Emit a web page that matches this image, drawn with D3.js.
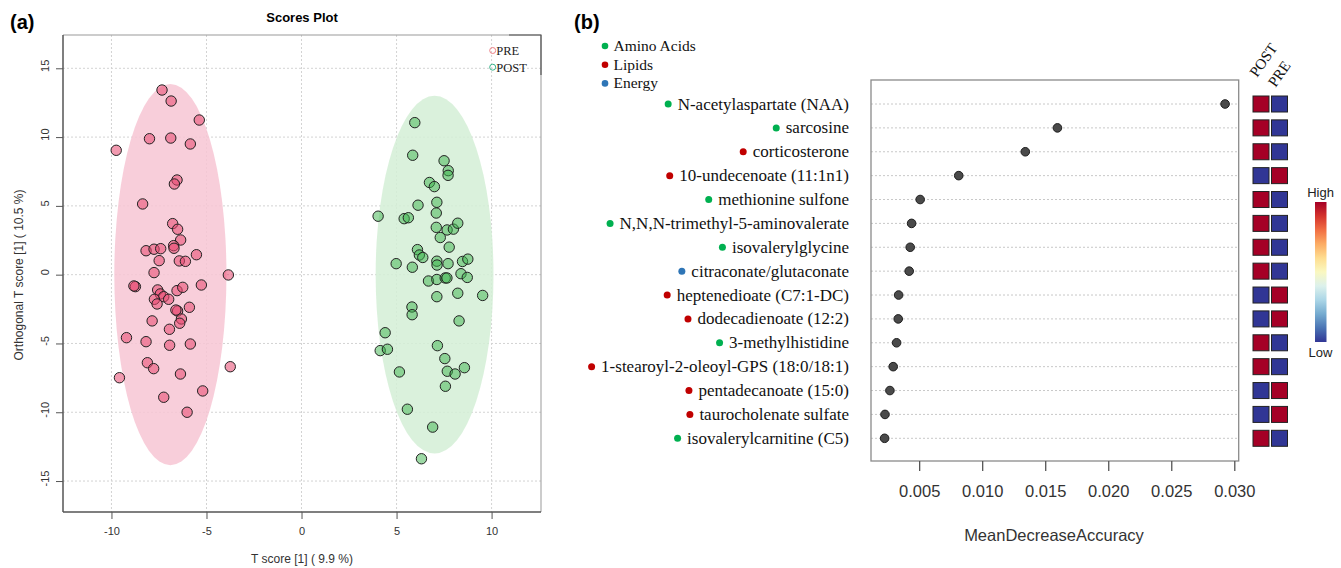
<!DOCTYPE html>
<html>
<head>
<meta charset="utf-8">
<script src="https://cdn.jsdelivr.net/npm/d3@7"></script>
<style>
  body { margin: 0; background: #fff; }
  svg { display: block; }
</style>
</head>
<body>
<div id="chart"></div>
<script>
// ---- (a) scores plot data ----
var groups = ['PRE', 'POST'];
var pre_x = [-7.34, -6.86, -5.38, -9.75, -8.00, -6.88, -5.85, -6.55, -6.69, -8.36,
    -6.78, -6.52, -6.36, -6.73, -6.71, -8.18, -7.76, -7.41, -5.53, -7.49,
    -6.43, -6.11, -7.76, -3.85, -8.74, -8.82, -7.57, -7.43, -7.25, -6.99,
    -7.74, -7.60, -6.55, -6.25, -5.27, -6.52, -6.61, -5.90, -6.32, -6.41,
    -7.86, -6.95, -9.21, -8.18, -6.94, -5.85, -8.11, -7.78, -6.37, -3.75,
    -9.58, -7.25, -5.20, -6.02];
var pre_y = [13.42, 12.62, 11.24, 9.04, 9.88, 9.93, 9.50, 6.88, 6.59, 5.14,
    3.71, 3.30, 2.52, 2.11, 1.92, 1.74, 1.85, 1.89, 1.45, 1.02,
    1.00, 0.97, 0.15, -0.02, -0.87, -0.82, -1.11, -1.40, -1.60, -1.79,
    -1.79, -2.13, -1.16, -0.92, -0.75, -2.64, -2.57, -2.37, -3.22, -3.53,
    -3.36, -3.97, -4.58, -4.87, -5.13, -5.04, -6.40, -6.83, -7.22, -6.69,
    -7.49, -8.91, -8.45, -10.00];
var post_x = [5.96, 5.85, 7.50, 7.72, 7.71, 6.73, 6.99, 7.12, 6.13, 4.03,
    5.40, 5.62, 7.09, 7.09, 7.66, 7.99, 8.22, 7.30, 7.77, 6.10,
    6.20, 6.38, 4.98, 5.83, 7.12, 7.13, 7.71, 8.47, 8.75, 8.39,
    8.72, 6.68, 7.12, 7.56, 7.65, 7.12, 8.22, 9.53, 5.81, 5.82,
    8.29, 4.40, 4.14, 4.52, 7.15, 7.54, 8.57, 7.67, 8.08, 5.15,
    7.57, 5.57, 6.90, 6.31];
var post_y = [11.05, 8.68, 8.28, 7.56, 7.22, 6.70, 6.40, 5.26, 5.05, 4.25,
    4.07, 4.14, 4.48, 3.44, 3.25, 3.31, 3.74, 2.70, 2.00, 1.82,
    1.43, 1.25, 0.80, 0.54, 0.98, 0.70, 0.80, 0.96, 1.13, 0.07,
    -0.20, -0.46, -0.35, -0.24, -0.24, -1.60, -1.35, -1.51, -2.35, -2.91,
    -3.36, -4.22, -5.52, -5.42, -5.16, -6.10, -6.76, -7.02, -7.22, -7.07,
    -8.11, -9.78, -11.08, -13.38];
// confidence ellipses (centre and semi-axes, score units)
var ellipse_cx = [-6.9, 7.0];
var ellipse_cy = [0, 0];
var ellipse_rx = [2.95, 3.1];
var ellipse_ry = [13.85, 13.0];
var t_ticks = [-10, -5, 0, 5, 10];
var o_ticks = [-15, -10, -5, 0, 5, 10, 15];

// ---- (b) random forest importance data ----
var metabolites = ['N-acetylaspartate (NAA)', 'sarcosine', 'corticosterone',
    '10-undecenoate (11:1n1)', 'methionine sulfone', 'N,N,N-trimethyl-5-aminovalerate',
    'isovalerylglycine', 'citraconate/glutaconate', 'heptenedioate (C7:1-DC)',
    'dodecadienoate (12:2)', '3-methylhistidine', '1-stearoyl-2-oleoyl-GPS (18:0/18:1)',
    'pentadecanoate (15:0)', 'taurocholenate sulfate', 'isovalerylcarnitine (C5)'];
var classes = ['Amino Acids', 'Amino Acids', 'Lipids', 'Lipids', 'Amino Acids', 'Amino Acids',
    'Amino Acids', 'Energy', 'Lipids', 'Lipids', 'Amino Acids', 'Lipids',
    'Lipids', 'Lipids', 'Amino Acids'];
var mda = [0.02927, 0.01597, 0.01342, 0.00814, 0.00508, 0.00440, 0.00429, 0.00421,
    0.00337, 0.00334, 0.00321, 0.00294, 0.00268, 0.00229, 0.00226];
var heat_cols = ['POST', 'PRE'];
var post_level = [1, 1, 1, 0, 1, 1, 1, 1, 0, 0, 1, 1, 0, 0, 1];
var pre_level = [0, 0, 0, 1, 0, 0, 0, 0, 1, 1, 0, 0, 1, 1, 0];
var class_names = ['Amino Acids', 'Lipids', 'Energy'];
var mda_ticks = [0.005, 0.010, 0.015, 0.020, 0.025, 0.030];

var width = 1341;
var height = 568;

var svg = d3.select('#chart')
    .append('svg')
    .attr('width', width)
    .attr('height', height);

var sans = 'Liberation Sans, Arial, sans-serif';
var serif = 'Liberation Serif, Times New Roman, serif';

// ================= (a) =================
var x_scale = d3.scaleLinear().domain([-12.55, 12.6]).range([63, 541]);
var y_scale = d3.scaleLinear().domain([-17.25, 17.42]).range([512, 35]);

svg.append('text').text('(a)')
    .attr('x', 10).attr('y', 29)
    .attr('font-family', sans).attr('font-weight', 'bold').attr('font-size', 20);

svg.append('text').text('Scores Plot')
    .attr('x', 302).attr('y', 22)
    .attr('text-anchor', 'middle')
    .attr('font-family', sans).attr('font-weight', 'bold').attr('font-size', 13);

// grid
var grid_a = svg.append('g');
grid_a.selectAll('.gx').data(t_ticks).enter().append('line')
    .attr('x1', function(d) { return x_scale(d); })
    .attr('x2', function(d) { return x_scale(d); })
    .attr('y1', 35).attr('y2', 512)
    .attr('stroke', '#d3d3d3').attr('stroke-dasharray', '2,2');
grid_a.selectAll('.gy').data(o_ticks).enter().append('line')
    .attr('y1', function(d) { return y_scale(d); })
    .attr('y2', function(d) { return y_scale(d); })
    .attr('x1', 63).attr('x2', 541)
    .attr('stroke', '#d3d3d3').attr('stroke-dasharray', '2,2');

// ellipses
var ellipse_fill = ['#f7c6d3', '#d4efd6'];
svg.selectAll('ellipse.conf')
    .data(groups)
    .enter()
    .append('ellipse')
    .attr('class', 'conf')
    .attr('cx', function(d, i) { return x_scale(ellipse_cx[i]); })
    .attr('cy', function(d, i) { return y_scale(ellipse_cy[i]); })
    .attr('rx', function(d, i) { return x_scale(ellipse_cx[i] + ellipse_rx[i]) - x_scale(ellipse_cx[i]); })
    .attr('ry', function(d, i) { return y_scale(ellipse_cy[i]) - y_scale(ellipse_cy[i] + ellipse_ry[i]); })
    .attr('fill', function(d, i) { return ellipse_fill[i]; })
    .attr('fill-opacity', 0.85);

// points
var pre_pts = pre_x.map(function(d, i) { return [d, pre_y[i]]; });
var post_pts = post_x.map(function(d, i) { return [d, post_y[i]]; });

svg.append('g').selectAll('circle')
    .data(pre_pts)
    .enter()
    .append('circle')
    .attr('cx', function(d) { return x_scale(d[0]); })
    .attr('cy', function(d) { return y_scale(d[1]); })
    .attr('r', 5.2)
    .attr('fill', '#e8476f')
    .attr('fill-opacity', 0.55)
    .attr('stroke', '#222')
    .attr('stroke-width', 1);

svg.append('g').selectAll('circle')
    .data(post_pts)
    .enter()
    .append('circle')
    .attr('cx', function(d) { return x_scale(d[0]); })
    .attr('cy', function(d) { return y_scale(d[1]); })
    .attr('r', 5.2)
    .attr('fill', '#3cb44b')
    .attr('fill-opacity', 0.5)
    .attr('stroke', '#222')
    .attr('stroke-width', 1);

// box + axes
svg.append('path')
    .attr('d', 'M63,35H541V512')
    .attr('fill', 'none').attr('stroke', '#999').attr('stroke-width', 1);
svg.append('path')
    .attr('d', 'M509,35H541V75')
    .attr('fill', 'none').attr('stroke', '#555').attr('stroke-width', 1.2);

var x_axis = d3.axisBottom(x_scale).tickValues(t_ticks).tickSize(7).tickPadding(8)
    .tickFormat(function(d) { return String(d); });
var gx = svg.append('g')
    .attr('transform', 'translate(0,512)')
    .call(x_axis);
gx.select('.domain').attr('d', 'M63,0H541').attr('stroke', '#555').attr('stroke-width', 1.5);
gx.selectAll('.tick line').attr('stroke', '#555');
gx.selectAll('.tick text').attr('font-family', sans).attr('font-size', 11).attr('fill', '#333');

var y_axis = d3.axisLeft(y_scale).tickValues(o_ticks).tickSize(7).tickPadding(8)
    .tickFormat(function(d) { return String(d); });
var gy = svg.append('g')
    .attr('transform', 'translate(63,0)')
    .call(y_axis);
gy.select('.domain').attr('d', 'M0,35V512').attr('stroke', '#555').attr('stroke-width', 1.5);
gy.selectAll('.tick line').attr('stroke', '#555');
gy.selectAll('.tick text')
    .attr('font-family', sans).attr('font-size', 11).attr('fill', '#333')
    .attr('text-anchor', 'middle')
    .attr('transform', 'translate(-18,-3) rotate(-90)')
    .attr('x', 0).attr('dy', '0.32em');

svg.append('text').text('T score [1] ( 9.9 %)')
    .attr('x', 302).attr('y', 563)
    .attr('text-anchor', 'middle')
    .attr('font-family', sans).attr('font-size', 12).attr('fill', '#333');

svg.append('text').text('Orthogonal T score [1] ( 10.5 %)')
    .attr('transform', 'translate(23,275) rotate(-90)')
    .attr('text-anchor', 'middle')
    .attr('font-family', sans).attr('font-size', 12).attr('fill', '#333');

// legend
var legend_a_color = ['#ee7f86', '#38b38a'];
var leg_a = svg.append('g').selectAll('g')
    .data(groups)
    .enter()
    .append('g')
    .attr('transform', function(d, i) { return 'translate(492.7,' + (50.5 + i * 16.7) + ')'; });
leg_a.append('circle')
    .attr('r', 3)
    .attr('fill', 'none')
    .attr('stroke', function(d, i) { return legend_a_color[i]; });
leg_a.append('text')
    .text(function(d) { return d; })
    .attr('x', 3.5).attr('y', 4.3)
    .attr('font-family', serif).attr('font-size', 12.5).attr('fill', '#222');

// ================= (b) =================
var class_color = d3.scaleOrdinal().domain(class_names).range(['#00b050', '#c00000', '#2e75b6']);

svg.append('text').text('(b)')
    .attr('x', 574).attr('y', 29)
    .attr('font-family', sans).attr('font-weight', 'bold').attr('font-size', 20);

// class legend
var leg_b = svg.append('g').selectAll('g')
    .data(class_names)
    .enter()
    .append('g')
    .attr('transform', function(d, i) { return 'translate(605,' + (46 + i * 18.7) + ')'; });
leg_b.append('circle').attr('r', 3.3).attr('fill', function(d) { return class_color(d); });
leg_b.append('text')
    .text(function(d) { return d; })
    .attr('x', 8.5).attr('y', 5)
    .attr('font-family', serif).attr('font-size', 15.5).attr('fill', '#111');

var mx = d3.extent(mda);
var pad = (mx[1] - mx[0]) * 0.04;
var m_scale = d3.scaleLinear().domain([mx[0] - pad, mx[1] + pad]).range([871, 1238.7]);
var r_scale = d3.scalePoint().domain(metabolites).range([104, 438.3]);

// row guide lines
svg.append('g').selectAll('line')
    .data(metabolites)
    .enter()
    .append('line')
    .attr('x1', 871).attr('x2', 1238.7)
    .attr('y1', function(d) { return r_scale(d); })
    .attr('y2', function(d) { return r_scale(d); })
    .attr('stroke', '#c8c8c8').attr('stroke-dasharray', '2,2');

svg.append('rect')
    .attr('x', 871).attr('y', 80)
    .attr('width', 1238.7 - 871).attr('height', 461 - 80)
    .attr('fill', 'none').attr('stroke', '#8a8a8a').attr('stroke-width', 1.3);

svg.append('g').selectAll('circle')
    .data(metabolites)
    .enter()
    .append('circle')
    .attr('cx', function(d, i) { return m_scale(mda[i]); })
    .attr('cy', function(d) { return r_scale(d); })
    .attr('r', 4.3)
    .attr('fill', '#4a4a4a')
    .attr('stroke', '#1e1e1e')
    .attr('stroke-width', 1);

// metabolite labels with class dots
var labels = svg.append('g').selectAll('g')
    .data(metabolites)
    .enter()
    .append('g')
    .attr('transform', function(d) { return 'translate(849,' + r_scale(d) + ')'; });
labels.append('text')
    .text(function(d) { return d; })
    .attr('text-anchor', 'end')
    .attr('y', 5.5)
    .attr('font-family', serif).attr('font-size', 17).attr('fill', '#111');
labels.append('circle')
    .attr('r', 3.5)
    .attr('cx', function() {
        var w = this.parentNode.querySelector('text').getComputedTextLength();
        return -w - 9.5;
    })
    .attr('fill', function(d, i) { return class_color(classes[i]); });

// x axis
var m_axis = d3.axisBottom(m_scale).tickValues(mda_ticks).tickSize(10).tickPadding(14)
    .tickFormat(d3.format('.3f'));
var gm = svg.append('g')
    .attr('transform', 'translate(0,461)')
    .call(m_axis);
gm.select('.domain').remove();
gm.selectAll('.tick line').attr('stroke', '#555').attr('stroke-width', 1.3);
gm.selectAll('.tick text').attr('font-family', sans).attr('font-size', 16.5).attr('fill', '#333');

svg.append('text').text('MeanDecreaseAccuracy')
    .attr('x', 1054).attr('y', 541)
    .attr('text-anchor', 'middle')
    .attr('font-family', sans).attr('font-size', 16.5).attr('fill', '#333');

// heatmap
var col_scale = d3.scaleBand().domain(heat_cols).range([1253, 1287.5]).paddingInner(0.135);
var heat_color = function(v) { return d3.interpolateRdYlBu(1 - v); };
var levels = [post_level, pre_level];

heat_cols.forEach(function(c, j) {
    svg.append('g').selectAll('rect')
        .data(metabolites)
        .enter()
        .append('rect')
        .attr('x', col_scale(c))
        .attr('y', function(d) { return r_scale(d) - 8; })
        .attr('width', col_scale.bandwidth())
        .attr('height', 16)
        .attr('fill', function(d, i) { return heat_color(levels[j][i]); })
        .attr('stroke', '#222')
        .attr('stroke-width', 1);
});

svg.append('g').selectAll('text')
    .data(heat_cols)
    .enter()
    .append('text')
    .text(function(d) { return d; })
    .attr('transform', function(d, i) {
        var cx = col_scale(d) + col_scale.bandwidth() / 2 - 4;
        return 'translate(' + cx + ',' + (78 + i * 10) + ') rotate(-55)';
    })
    .attr('font-family', serif).attr('font-size', 15).attr('fill', '#111');

// colour key
var defs = svg.append('defs');
var grad = defs.append('linearGradient')
    .attr('id', 'key')
    .attr('x1', 0).attr('y1', 0).attr('x2', 0).attr('y2', 1);
d3.range(0, 1.001, 0.1).forEach(function(t) {
    grad.append('stop')
        .attr('offset', t)
        .attr('stop-color', d3.interpolateRdYlBu(t));
});
svg.append('rect')
    .attr('x', 1315).attr('y', 202)
    .attr('width', 11.5).attr('height', 140)
    .attr('fill', 'url(#key)');
svg.append('text').text('High')
    .attr('x', 1320.5).attr('y', 197)
    .attr('text-anchor', 'middle')
    .attr('font-family', sans).attr('font-size', 13).attr('fill', '#222');
svg.append('text').text('Low')
    .attr('x', 1320.5).attr('y', 357)
    .attr('text-anchor', 'middle')
    .attr('font-family', sans).attr('font-size', 13).attr('fill', '#222');
</script>
</body>
</html>
